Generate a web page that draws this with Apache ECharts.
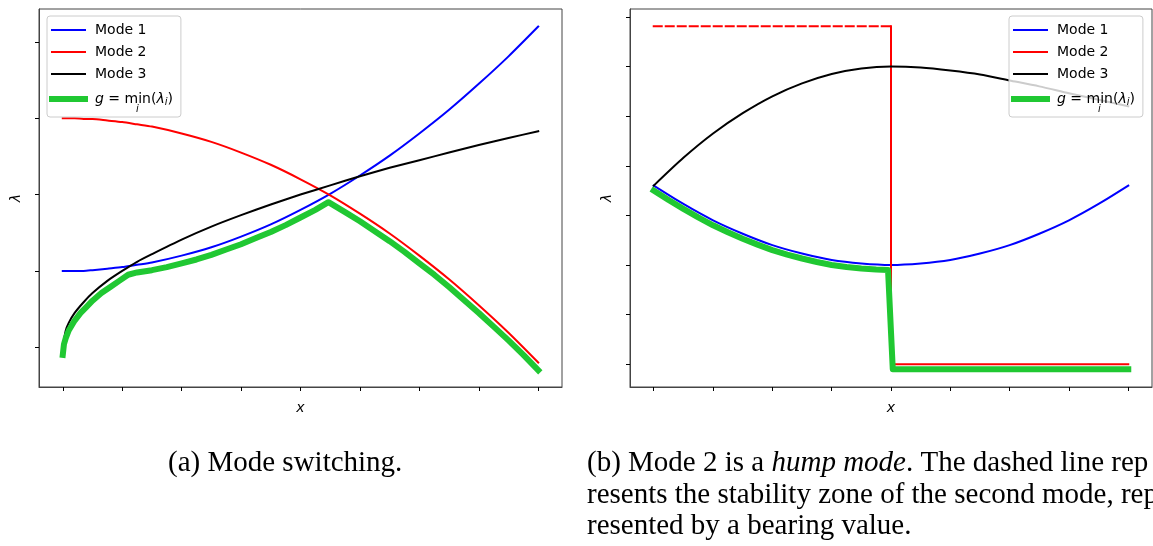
<!DOCTYPE html>
<html>
<head>
<meta charset="utf-8">
<script src="https://cdn.jsdelivr.net/npm/echarts@6/dist/echarts.min.js"></script>
<style>
html,body{margin:0;padding:0;background:#fff;}
#chart{width:1153px;height:546px;}
</style>
</head>
<body>
<div id="chart"></div>
<script>
// ---- Panel (a): mode switching ----
var aX = [0, 0.05, 0.1, 0.2, 0.35, 0.5, 0.75, 1, 1.25, 1.5, 2, 2.5, 3, 3.5, 4, 4.5, 5, 5.5, 6, 6.5, 7, 7.5, 8];
var aMode1 = [1.00, 1.00, 1.00, 1.00, 1.00, 1.01, 1.03, 1.05, 1.08, 1.11, 1.20, 1.31, 1.45, 1.61, 1.80, 2.01, 2.25, 2.51, 2.80, 3.11, 3.45, 3.81, 4.20];
var aMode2 = [3.00, 3.00, 3.00, 3.00, 2.99, 2.99, 2.97, 2.95, 2.92, 2.89, 2.80, 2.69, 2.55, 2.39, 2.20, 1.99, 1.75, 1.49, 1.20, 0.89, 0.55, 0.19, -0.20];
var aMode3 = [0.00, 0.22, 0.32, 0.45, 0.59, 0.71, 0.87, 1.00, 1.12, 1.22, 1.41, 1.58, 1.73, 1.87, 2.00, 2.12, 2.24, 2.35, 2.45, 2.55, 2.65, 2.74, 2.83];
var aGX = [0, 0.02, 0.05, 0.1, 0.2, 0.3, 0.4, 0.5, 0.65, 0.8, 0.95, 1.1, 1.25, 1.5, 1.75, 2, 2.25, 2.5, 2.75, 3, 3.25, 3.5, 3.75, 4, 4.25, 4.47, 4.75, 5, 5.25, 5.5, 5.75, 6, 6.25, 6.5, 6.75, 7, 7.25, 7.5, 7.75, 8];
var aG = [-0.10, 0.04, 0.12, 0.22, 0.35, 0.45, 0.53, 0.61, 0.71, 0.79, 0.87, 0.95, 0.98, 1.01, 1.05, 1.10, 1.15, 1.21, 1.28, 1.35, 1.43, 1.51, 1.60, 1.70, 1.80, 1.90, 1.77, 1.65, 1.52, 1.39, 1.25, 1.10, 0.95, 0.79, 0.62, 0.45, 0.27, 0.09, -0.10, -0.30];

// ---- Panel (b): hump mode ----
var bX = [0, 0.5, 1, 1.5, 2, 2.5, 3, 3.5, 4, 4.5, 5, 5.5, 6, 6.5, 7, 7.5, 8];
var bMode1 = [3.60, 3.23, 2.90, 2.63, 2.40, 2.23, 2.10, 2.03, 2.00, 2.03, 2.10, 2.23, 2.40, 2.63, 2.90, 3.23, 3.60];
var bMode3 = [3.60, 4.16, 4.65, 5.06, 5.40, 5.66, 5.85, 5.96, 6.00, 5.98, 5.92, 5.84, 5.72, 5.60, 5.46, 5.33, 5.20];
var bMode2X = [4, 4, 8];
var bMode2 = [6.81, 0.00, 0.00];
var bZoneX = [0, 4];
var bZone = [6.81, 6.81];
var bGX = [0, 0.25, 0.5, 0.75, 1, 1.25, 1.5, 1.75, 2, 2.25, 2.5, 2.75, 3, 3.25, 3.5, 3.75, 3.95, 4.03, 8];
var bG = [3.50, 3.31, 3.13, 2.96, 2.80, 2.66, 2.53, 2.41, 2.30, 2.21, 2.13, 2.06, 2.00, 1.96, 1.93, 1.91, 1.90, -0.10, -0.10];

var xTicks = [0, 1, 2, 3, 4, 5, 6, 7, 8];
var aYTicks = [0, 1, 2, 3, 4];
var bYTicks = [0, 1, 2, 3, 4, 5, 6, 7];

var legendNames = ['Mode 1', 'Mode 2', 'Mode 3', 'g'];
var captionA = '(a) Mode switching.';
var captionB1 = ['(b) Mode 2 is a ', 'hump mode', '. The dashed line rep'];
var captionB2 = 'resents the stability zone of the second mode, rep';
var captionB3 = 'resented by a bearing value.';

function zip(xs, ys) { return xs.map(function (x, i) { return [x, ys[i]]; }); }

var BLUE = '#0000ff', RED = '#ff0000', BLACK = '#000000', GREEN = '#20c832';
var SANS = 'DejaVu Sans';
var SERIF = 'Liberation Serif';

function mkX(idx) {
  return {
    type: 'value', gridIndex: idx, min: -0.4, max: 8.4,
    name: 'x', nameLocation: 'middle', nameGap: 14,
    nameTextStyle: { fontFamily: SANS, fontStyle: 'italic', fontSize: 14, color: '#000' },
    axisLine: { show: true, onZero: false, lineStyle: { color: '#444', width: 1 } },
    axisTick: { show: true, inside: false, length: 4, customValues: xTicks, lineStyle: { color: '#000', width: 1 } },
    axisLabel: { show: false },
    splitLine: { show: false }
  };
}
function mkY(idx, min, max, ticks) {
  return {
    type: 'value', gridIndex: idx, min: min, max: max,
    name: 'λ', nameLocation: 'middle', nameGap: 16, nameRotate: 90,
    nameTextStyle: { fontFamily: SANS, fontStyle: 'italic', fontSize: 14, color: '#000' },
    axisLine: { show: true, onZero: false, lineStyle: { color: '#444', width: 1 } },
    axisTick: { show: true, inside: false, length: 4, customValues: ticks, lineStyle: { color: '#000', width: 1 } },
    axisLabel: { show: false },
    splitLine: { show: false }
  };
}
function line(name, idx, data, color, width, opts) {
  opts = opts || {};
  return {
    type: 'line', name: name, xAxisIndex: idx, yAxisIndex: idx, data: data,
    symbol: 'none', showSymbol: false,
    smooth: opts.smooth || false,
    z: opts.z || 2,
    lineStyle: { color: color, width: width, type: opts.dash || 'solid', cap: 'square', join: 'round' },
    itemStyle: { color: color },
    emphasis: { disabled: true }
  };
}
function mkLegend(left) {
  return {
    orient: 'vertical', left: left, top: 16,
    data: [
      { name: 'Mode 1' }, { name: 'Mode 2' }, { name: 'Mode 3' },
      { name: 'g', lineStyle: { width: 6 } }
    ],
    itemWidth: 33, itemHeight: 14, itemGap: 8,
    padding: [7, 8, 8, 2],
    backgroundColor: 'rgba(255,255,255,0.8)',
    borderColor: '#cccccc', borderWidth: 1, borderRadius: 3,
    selectedMode: false,
    itemStyle: { opacity: 0 },
    lineStyle: { width: 2 },
    textStyle: {
      fontFamily: SANS, fontSize: 14, color: '#000', lineHeight: 14, padding: [0, 0, 0, 5],
      rich: {
        it: { fontFamily: SANS, fontStyle: 'italic', fontSize: 14, color: '#000', lineHeight: 20 },
        n: { fontFamily: SANS, fontSize: 14, color: '#000', lineHeight: 20 },
        sub: { fontFamily: SANS, fontStyle: 'italic', fontSize: 10, color: '#000', lineHeight: 20, padding: [6, 0, 0, 0] }
      }
    },
    formatter: function (n) { return n === 'g' ? '{it|g}{n| = min(}{it|λ}{sub|i}{n|)}' : n; }
  };
}

var chart = echarts.init(document.getElementById('chart'), null, { renderer: 'canvas' });
chart.setOption({
  animation: false,
  backgroundColor: '#ffffff',
  grid: [
    { left: 39, top: 9, width: 523, height: 378, show: true, borderColor: '#444', borderWidth: 1, backgroundColor: 'transparent' },
    { left: 630, top: 9, width: 522, height: 378, show: true, borderColor: '#444', borderWidth: 1, backgroundColor: 'transparent' }
  ],
  xAxis: [mkX(0), mkX(1)],
  yAxis: [mkY(0, -0.52, 4.43, aYTicks), mkY(1, -0.46, 7.16, bYTicks)],
  legend: [mkLegend(47), mkLegend(1009)],
  series: [
    line('Mode 1', 0, zip(aX, aMode1), BLUE, 2, { smooth: 0.25 }),
    line('Mode 2', 0, zip(aX, aMode2), RED, 2, { smooth: 0.25 }),
    line('Mode 3', 0, zip(aX, aMode3), BLACK, 2, { smooth: 0.25 }),
    line('g', 0, zip(aGX, aG), GREEN, 6, { z: 3 }),
    line('Mode 1', 1, zip(bX, bMode1), BLUE, 2, { smooth: 0.25 }),
    line('zone', 1, zip(bZoneX, bZone), RED, 2, { dash: [8, 4] }),
    line('Mode 2', 1, zip(bMode2X, bMode2), RED, 2),
    line('Mode 3', 1, zip(bX, bMode3), BLACK, 2, { smooth: 0.25 }),
    line('g', 1, zip(bGX, bG), GREEN, 6, { z: 3 })
  ],
  graphic: [
    { type: 'text', left: 136, top: 104, z: 100, style: { text: 'i', font: 'italic 10px "DejaVu Sans"', fill: '#000' } },
    { type: 'text', left: 1098, top: 104, z: 100, style: { text: 'i', font: 'italic 10px "DejaVu Sans"', fill: '#000' } },
    { type: 'text', x: 168, y: 463, style: { text: captionA, font: '29px "Liberation Serif"', fill: '#000', verticalAlign: 'middle' } },
    { type: 'text', x: 587, y: 463, style: {
        text: captionB1[0] + '{it|' + captionB1[1] + '}' + captionB1[2],
        font: '29px "Liberation Serif"', fill: '#000', verticalAlign: 'middle',
        rich: { it: { fontFamily: SERIF, fontStyle: 'italic', fontSize: 29, fill: '#000' } } } },
    { type: 'text', x: 587, y: 495, style: { text: captionB2, font: '29px "Liberation Serif"', fill: '#000', verticalAlign: 'middle' } },
    { type: 'text', x: 587, y: 526, style: { text: captionB3, font: '29px "Liberation Serif"', fill: '#000', verticalAlign: 'middle' } }
  ]
});
</script>
</body>
</html>
